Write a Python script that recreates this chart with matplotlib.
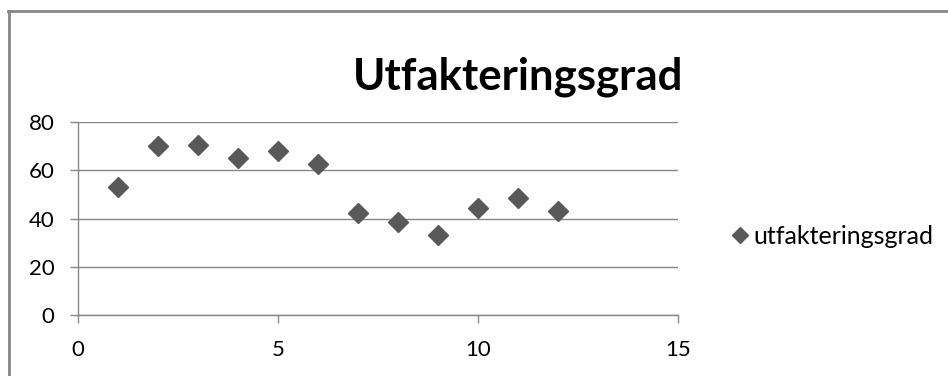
import matplotlib.pyplot as plt
from matplotlib.lines import Line2D

plt.rcParams['font.family'] = ['Lato', 'DejaVu Sans']

# data
periode = [1, 2, 3, 4, 5, 6, 7, 8, 9, 10, 11, 12]
utfakteringsgrad = [53.3, 70.3, 70.6, 65.1, 68.2, 62.6, 42.5, 38.5, 33.1, 44.6, 48.4, 43.3]
xticks = [0, 5, 10, 15]
yticks = [0, 20, 40, 60, 80]

grey = '#868686'
marker_col = '#595959'

fig = plt.figure(figsize=(9.48, 3.76), dpi=100)
ax = fig.add_axes([78 / 948, 1 - 315 / 376, 600 / 948, (315 - 122.3) / 376])

ax.plot(periode, utfakteringsgrad, linestyle='none', marker='D', ms=10,
        color=marker_col, label='utfakteringsgrad')

ax.set_xlim(0, 15)
ax.set_ylim(0, 80)
ax.set_xticks(xticks)
ax.set_yticks(yticks)
ax.yaxis.grid(True, color=grey, lw=1)
ax.set_axisbelow(True)

for s in ['top', 'right']:
    ax.spines[s].set_visible(False)
for s in ['left', 'bottom']:
    ax.spines[s].set_color(grey)
    ax.spines[s].set_linewidth(1)

ax.tick_params(axis='both', direction='out', length=6, width=1, color=grey,
               labelsize=16, labelcolor='black')
ax.tick_params(axis='y', pad=11)
ax.tick_params(axis='x', pad=12)

fig.text(518 / 948, 1 - 77 / 376, 'Utfakteringsgrad', ha='center', va='center',
         fontsize=31.5, fontweight='bold')

leg = ax.legend(loc='center left', bbox_to_anchor=(732 / 948, 1 - 236 / 376),
                bbox_transform=fig.transFigure, frameon=False, fontsize=18,
                markerscale=0.8, handlelength=0.6, handletextpad=0.25,
                borderpad=0, borderaxespad=0)

# outer chart frame
fig.add_artist(Line2D([9 / 948, 9 / 948], [0, 1 - 10.5 / 376], color=grey, lw=2,
                      transform=fig.transFigure))
fig.add_artist(Line2D([8 / 948, 1], [1 - 10.5 / 376, 1 - 10.5 / 376], color=grey, lw=2,
                      transform=fig.transFigure))

fig.savefig('out.png', dpi=100)
